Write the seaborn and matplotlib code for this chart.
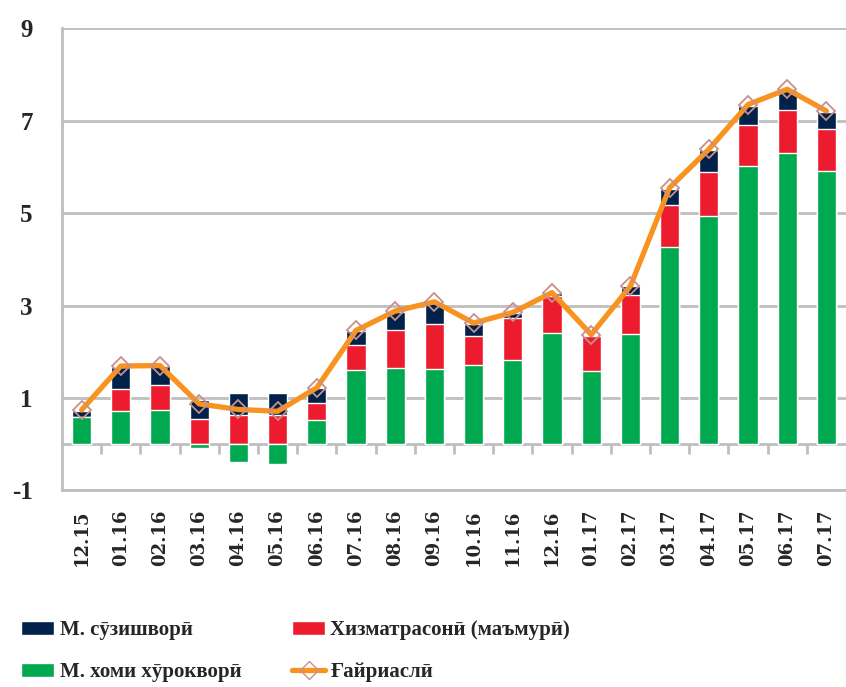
import numpy as np
import pandas as pd
import matplotlib
matplotlib.use("Agg")
import matplotlib.pyplot as plt
import seaborn as sns
from matplotlib.patches import Patch
from matplotlib.lines import Line2D

categories = ['12.15', '01.16', '02.16', '03.16', '04.16', '05.16', '06.16', '07.16',
              '08.16', '09.16', '10.16', '11.16', '12.16', '01.17', '02.17', '03.17',
              '04.17', '05.17', '06.17', '07.17']
food = [0.58, 0.72, 0.74, -0.08, -0.38, -0.43, 0.53, 1.60, 1.65, 1.63, 1.72, 1.83,
        2.41, 1.59, 2.38, 4.27, 4.94, 6.02, 6.31, 5.92]
services = [0.0, 0.48, 0.55, 0.55, 0.64, 0.62, 0.37, 0.54, 0.81, 0.97, 0.63, 0.90,
            0.79, 0.74, 0.84, 0.91, 0.94, 0.88, 0.93, 0.91]
fuel = [0.14, 0.47, 0.40, 0.40, 0.47, 0.49, 0.31, 0.31, 0.41, 0.46, 0.25, 0.11,
        0.06, 0.0, 0.20, 0.35, 0.48, 0.42, 0.42, 0.36]
core = [0.74, 1.69, 1.70, 0.87, 0.75, 0.71, 1.22, 2.46, 2.88, 3.08, 2.62, 2.85,
        3.28, 2.37, 3.42, 5.55, 6.38, 7.35, 7.68, 7.21]
yticks = [-1, 1, 3, 5, 7, 9]

labels = ['М. сӯзишворӣ', 'Хизматрасонӣ (маъмурӣ)', 'М. хоми хӯрокворӣ', 'Ғайриаслӣ']
c_fuel, c_serv, c_food, c_line = '#00214A', '#EC1C2E', '#00A950', '#F7931E'
grey = '#BFBFBF'

sns.set_style('white')
plt.rcParams['font.family'] = ['Liberation Serif', 'DejaVu Serif']

df = pd.DataFrame({'cat': categories, 'food': food, 'services': services,
                   'fuel': fuel, 'core': core})
pos_food = df['food'].clip(lower=0)
df['serv_top'] = pos_food + df['services']
df['fuel_top'] = df['serv_top'] + df['fuel']
df['idx'] = np.arange(len(df))

fig = plt.figure(figsize=(8.46, 6.87), dpi=100)
ax = fig.add_axes([0.0733, 0.2863, 0.9267, 0.6725])

w = 0.49
sns.barplot(data=df, x='cat', y='fuel_top', color=c_fuel, width=w, saturation=1,
            errorbar=None, ax=ax, zorder=2)
sns.barplot(data=df, x='cat', y='serv_top', color=c_serv, width=w, saturation=1,
            errorbar=None, ax=ax, zorder=2)
sns.barplot(data=df, x='cat', y='food', color=c_food, width=w, saturation=1,
            errorbar=None, ax=ax, zorder=2)
sns.lineplot(data=df, x='idx', y='core', color=c_line, lw=3.8, marker='D',
             markersize=9, markerfacecolor='none', markeredgecolor='#C98F8A',
             markeredgewidth=1.3, ax=ax, zorder=4, sort=False)

ax.set_xlim(-0.5, len(categories) - 0.5)
ax.set_ylim(-1, 9)
ax.set_yticks(yticks)
ax.set_yticklabels([str(v) for v in yticks], fontsize=18, fontweight='bold',
                   family=['Liberation Serif', 'DejaVu Serif'])
ax.set_xticks(np.arange(len(categories)))
ax.set_xticklabels(categories, rotation=90, fontsize=13, fontweight='bold',
                   family=['DejaVu Serif'])
ax.tick_params(axis='x', length=0, pad=14)
ax.tick_params(axis='y', length=7, width=2, color=grey, direction='out', pad=14)
ax.set_xlabel('')
ax.set_ylabel('')
ax.yaxis.grid(True, color=grey, lw=2, zorder=0)
ax.set_axisbelow(True)
for s in ['top', 'right']:
    ax.spines[s].set_visible(False)
for s in ['left', 'bottom']:
    ax.spines[s].set_color(grey)
    ax.spines[s].set_linewidth(2)

# zero line with category separators
sec = ax.secondary_xaxis(0.1)
sec.set_xticks(np.arange(len(categories) - 1) + 0.5)
sec.set_xticklabels([])
sec.tick_params(length=7, width=2, color=grey, direction='out')
sec.spines['bottom'].set_color(grey)
sec.spines['bottom'].set_linewidth(2)

h_fuel = Patch(facecolor=c_fuel, label=labels[0])
h_serv = Patch(facecolor=c_serv, label=labels[1])
h_food = Patch(facecolor=c_food, label=labels[2])
h_line = Line2D([0], [0], color=c_line, lw=3.8, marker='D', markersize=9,
                markerfacecolor='none', markeredgecolor='#C98F8A', label=labels[3])

legprops = dict(frameon=False, handlelength=1.6, handleheight=0.7,
                handletextpad=0.25, labelspacing=1.05, borderpad=0, borderaxespad=0,
                loc='upper left', prop={'weight': 'bold', 'size': 15,
                                        'family': ['Liberation Serif', 'DejaVu Serif']})
fig.legend(handles=[h_fuel, h_food], bbox_to_anchor=(0.025, 0.097), **legprops)
fig.legend(handles=[h_serv, h_line], bbox_to_anchor=(0.345, 0.097), **legprops)

fig.savefig('out.png', dpi=100)
